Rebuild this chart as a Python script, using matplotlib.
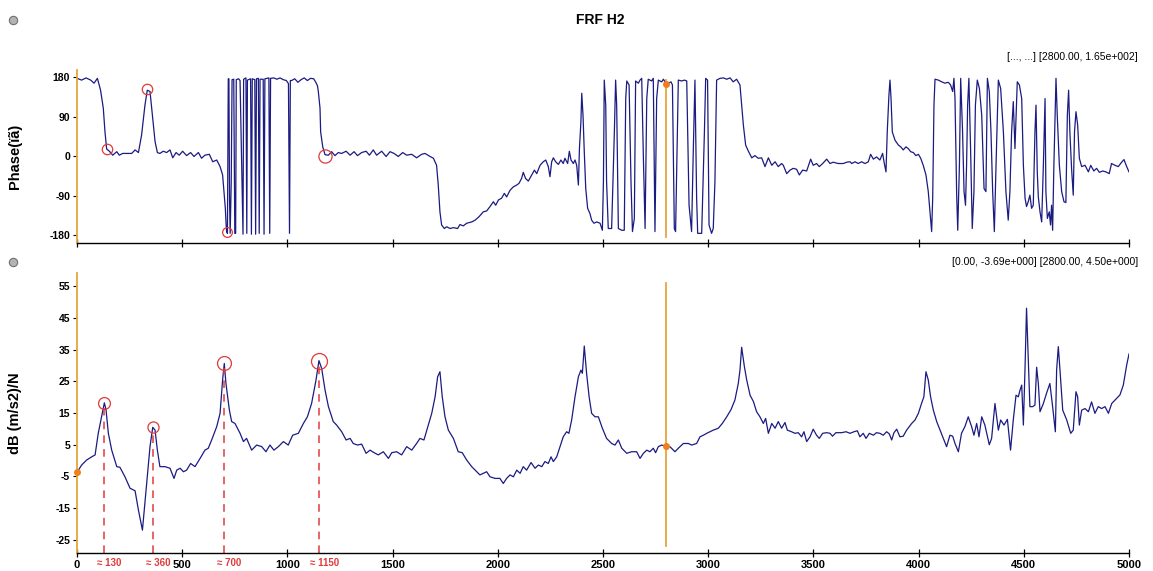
import numpy as np
import matplotlib
matplotlib.use("Agg")
import matplotlib.pyplot as plt
from matplotlib.lines import Line2D

plt.rcParams['font.family'] = ['Liberation Sans', 'DejaVu Sans']

# FRF H2 magnitude, (frequency Hz, dB)
mag_points = [
    (0, -3.69), (22, -1.4), (46, 0.2), (70, 1.2), (86, 1.8), (101, 8.6), (117, 13.8),
    (130, 18.2), (138, 16.0), (149, 8.6), (165, 3.3), (189, -1.9), (204, -2.1),
    (228, -5.1), (252, -8.7), (276, -9.5), (292, -15.6), (311, -21.9), (331, -7.2),
    (347, 4.4), (360, 10.5), (371, 9.6), (382, 3.3), (394, -1.9), (418, -1.9),
    (442, -2.4), (461, -5.6), (474, -3.0), (490, -2.4), (506, -3.5), (521, -3.0),
    (540, -0.9), (561, -1.9), (585, 0.7), (608, 3.3), (624, 3.9), (640, 6.5),
    (664, 10.7), (680, 14.9), (692, 25.4), (700, 30.6), (708, 24.3), (724, 16.0),
    (735, 12.3), (751, 11.7), (775, 8.6), (791, 6.0), (806, 7.0), (830, 3.3),
    (854, 4.9), (878, 4.4), (898, 2.8), (917, 4.9), (936, 3.3), (957, 4.4),
    (981, 6.0), (1004, 4.9), (1025, 8.0), (1052, 8.6), (1076, 11.7), (1095, 13.8),
    (1115, 18.0), (1136, 25.4), (1150, 31.5), (1163, 29.0), (1179, 22.2), (1195, 17.0),
    (1218, 12.3), (1234, 11.2), (1258, 9.1), (1279, 6.5), (1298, 7.0), (1313, 5.4),
    (1333, 4.9), (1353, 5.2), (1374, 2.3), (1393, 3.3), (1412, 2.5), (1432, 1.8),
    (1456, 2.8), (1480, 0.7), (1496, 2.5), (1519, 2.8), (1543, 1.8), (1567, 4.4),
    (1591, 3.3), (1614, 5.4), (1630, 7.0), (1649, 6.5), (1670, 11.2), (1686, 14.9),
    (1702, 20.1), (1714, 26.4), (1725, 28.0), (1736, 20.1), (1749, 13.8), (1765, 9.6),
    (1789, 7.0), (1812, 2.8), (1831, 2.5), (1852, 0.2), (1876, -1.9), (1900, -3.5),
    (1915, -4.5), (1931, -4.0), (1947, -3.5), (1963, -5.1), (1987, -5.6), (2010, -5.6),
    (2026, -7.2), (2042, -5.6), (2058, -4.5), (2074, -5.1), (2090, -3.0), (2106, -4.0),
    (2121, -1.9), (2137, -3.0), (2158, -0.6), (2177, -2.4), (2193, -1.4), (2209, -1.9),
    (2224, -0.3), (2240, -0.9), (2253, 1.2), (2264, -0.3), (2280, 1.2), (2296, 4.4),
    (2311, 7.5), (2327, 9.1), (2338, 8.6), (2351, 12.8), (2367, 20.1), (2383, 26.4),
    (2395, 28.5), (2402, 27.5), (2411, 36.1), (2422, 27.5), (2434, 20.1), (2446, 14.9),
    (2462, 13.8), (2478, 13.8), (2497, 10.2), (2517, 7.0), (2541, 5.4), (2557, 4.9),
    (2573, 6.5), (2589, 3.9), (2613, 2.3), (2636, 2.8), (2660, 2.8), (2676, 0.7),
    (2692, 2.3), (2708, 3.3), (2723, 2.8), (2739, 3.9), (2750, 2.5), (2763, 4.4),
    (2779, 4.9), (2800, 4.5), (2818, 4.4), (2842, 2.8), (2858, 3.9), (2882, 5.4),
    (2906, 5.4), (2921, 4.9), (2945, 5.4), (2961, 7.5), (2977, 8.0), (2993, 8.6),
    (3009, 9.1), (3024, 9.6), (3048, 10.2), (3067, 11.7), (3088, 13.8), (3108, 16.0),
    (3127, 19.1), (3143, 24.3), (3151, 28.5), (3159, 35.7), (3172, 29.6), (3183, 25.4),
    (3199, 20.6), (3215, 18.6), (3230, 15.4), (3246, 13.8), (3262, 11.7), (3273, 13.3),
    (3286, 8.6), (3302, 11.7), (3318, 10.2), (3333, 12.3), (3349, 10.2), (3365, 12.0),
    (3376, 9.6), (3396, 9.1), (3412, 8.6), (3428, 8.8), (3444, 7.5), (3455, 9.1),
    (3468, 6.0), (3484, 7.5), (3499, 9.9), (3515, 8.0), (3528, 7.0), (3544, 8.6),
    (3563, 8.8), (3579, 8.6), (3591, 7.7), (3607, 8.8), (3634, 8.8), (3655, 9.1),
    (3674, 8.6), (3693, 9.1), (3709, 9.4), (3721, 7.5), (3737, 8.6), (3750, 7.0),
    (3766, 8.6), (3785, 8.0), (3800, 8.8), (3816, 8.6), (3832, 8.0), (3848, 9.1),
    (3861, 8.4), (3872, 6.5), (3883, 8.8), (3896, 9.9), (3911, 7.5), (3927, 7.7),
    (3943, 9.6), (3967, 11.7), (3983, 12.8), (3999, 14.9), (4014, 18.0), (4025, 20.1),
    (4035, 28.0), (4046, 25.4), (4057, 20.1), (4070, 15.9), (4086, 12.3), (4102, 9.6),
    (4117, 7.0), (4133, 4.4), (4149, 8.0), (4162, 7.7), (4173, 5.4), (4189, 2.8),
    (4204, 8.6), (4220, 10.7), (4236, 13.8), (4252, 10.7), (4263, 8.0), (4276, 11.7),
    (4287, 7.5), (4300, 13.8), (4315, 11.2), (4336, 5.0), (4347, 7.0), (4363, 18.0),
    (4379, 9.6), (4390, 12.8), (4406, 11.2), (4422, 13.0), (4437, 3.3), (4450, 12.8),
    (4463, 20.6), (4474, 20.1), (4482, 22.2), (4490, 23.8), (4498, 11.2), (4506, 29.6),
    (4513, 48.0), (4521, 32.7), (4529, 17.0), (4542, 17.0), (4553, 17.5), (4561, 29.4),
    (4569, 24.3), (4577, 15.4), (4593, 18.0), (4608, 21.2), (4624, 24.3), (4637, 17.0),
    (4650, 9.1), (4656, 28.5), (4664, 35.9), (4672, 28.5), (4685, 15.9), (4704, 12.8),
    (4723, 8.6), (4735, 9.6), (4748, 21.7), (4756, 20.1), (4764, 11.2), (4775, 15.9),
    (4791, 16.4), (4807, 15.4), (4822, 18.5), (4838, 14.9), (4854, 17.0), (4870, 16.4),
    (4886, 17.0), (4902, 14.9), (4918, 18.0), (4941, 19.6), (4957, 20.7), (4973, 23.8),
    (4989, 30.1), (5000, 33.6),
]

# FRF H2 phase, (frequency Hz, degrees)
phase_points = [
    (0, 177), (22, 173), (43, 178), (65, 173), (81, 166), (97, 177), (112, 150),
    (125, 109), (133, 55), (141, 16), (154, 11), (170, 2), (189, 10), (201, 2),
    (217, 6), (236, 6), (260, 6), (276, 14), (292, 8), (307, 48), (323, 116),
    (334, 150), (347, 147), (360, 86), (371, 33), (382, 8), (394, 6), (410, 11),
    (426, 8), (442, 14), (455, -4), (471, 8), (486, 2), (502, 11), (521, 1),
    (540, 8), (556, -1), (577, 8), (592, -5), (608, 2), (629, 4), (645, -13),
    (664, -9), (680, -24), (692, -43), (700, -89), (705, -119), (708, -150),
    (711, -172), (715, -176), (719, 176), (722, 176), (725, -100), (728, -176),
    (733, -60), (737, 174), (745, 175), (750, -176), (754, -176), (757, 174),
    (768, 176), (775, 172), (789, -178), (792, 175), (803, 178), (807, -176),
    (810, 173), (825, 176), (829, -178), (833, 176), (845, 174), (849, -178),
    (853, 176), (862, 177), (866, -176), (870, 175), (885, 175), (889, -178),
    (893, 176), (912, 178), (916, -176), (920, 177), (935, 178), (950, 175),
    (965, 178), (980, 174), (995, 172), (1005, 165), (1010, -176), (1014, 172),
    (1020, 172), (1035, 176), (1050, 168), (1065, 174), (1080, 178), (1095, 172),
    (1110, 177), (1125, 176), (1135, 168), (1143, 160), (1147, 147), (1155, 109),
    (1158, 55), (1168, 21), (1179, 3), (1195, 2), (1210, 10), (1226, 1), (1242, 8),
    (1258, 6), (1279, 11), (1298, 2), (1317, 10), (1333, 1), (1353, 8), (1374, 11),
    (1390, 2), (1408, 14), (1424, 2), (1448, 11), (1469, -1), (1488, 10), (1507, 6),
    (1527, -1), (1548, 8), (1567, 2), (1591, 4), (1614, -4), (1638, 4), (1654, 6),
    (1678, -1), (1694, -5), (1709, -21), (1717, -66), (1725, -127), (1733, -157),
    (1746, -165), (1757, -161), (1773, -165), (1789, -163), (1809, -165), (1820, -156),
    (1836, -159), (1852, -153), (1876, -150), (1892, -146), (1911, -138), (1931, -127),
    (1947, -125), (1963, -115), (1979, -104), (1990, -112), (2003, -100), (2018, -96),
    (2031, -85), (2042, -93), (2058, -78), (2074, -70), (2090, -66), (2101, -62),
    (2113, -51), (2121, -37), (2132, -51), (2145, -57), (2161, -43), (2174, -32),
    (2185, -40), (2201, -21), (2216, -13), (2228, -9), (2240, -24), (2248, -47),
    (2256, -13), (2264, -4), (2275, -13), (2288, -19), (2300, -9), (2311, -17),
    (2319, -5), (2332, -17), (2340, 11), (2348, -9), (2359, -17), (2367, -9),
    (2375, -21), (2383, -66), (2388, 17), (2395, 78), (2399, 143), (2405, 93),
    (2411, 10), (2418, -74), (2427, -119), (2438, -131), (2446, -146), (2457, -153),
    (2470, -150), (2486, -153), (2497, -169), (2502, -58), (2506, 173), (2513, 116),
    (2517, -58), (2525, -165), (2541, -165), (2554, 55), (2560, 173), (2565, 116),
    (2573, -165), (2589, -169), (2601, -169), (2608, 131), (2613, 171), (2624, 162),
    (2633, -58), (2640, -172), (2649, -142), (2655, 171), (2668, 166), (2676, 173),
    (2684, 177), (2692, -5), (2700, -165), (2708, 131), (2715, 175), (2731, 171),
    (2739, 177), (2747, -172), (2755, 131), (2763, 173), (2779, 169), (2787, 175),
    (2800, 165), (2811, 166), (2823, 169), (2830, 162), (2839, -165), (2845, -172),
    (2858, 173), (2874, 171), (2887, 173), (2898, 171), (2909, -112), (2921, -172),
    (2929, 10), (2937, 173), (2945, -96), (2950, -176), (2969, -176), (2982, 55),
    (2988, 177), (2997, 173), (3004, -157), (3016, -176), (3024, -165), (3032, -58),
    (3040, 173), (3056, 177), (3072, 178), (3088, 175), (3104, 178), (3119, 169),
    (3135, 175), (3151, 162), (3159, 116), (3167, 71), (3178, 25), (3191, 11),
    (3207, -4), (3222, 1), (3238, -5), (3254, -4), (3270, -24), (3286, -4),
    (3302, -21), (3318, -13), (3333, -24), (3349, -17), (3357, -21), (3373, -40),
    (3389, -32), (3404, -28), (3420, -30), (3433, -43), (3449, -32), (3468, -34),
    (3487, -7), (3499, -21), (3515, -17), (3528, -24), (3544, -17), (3563, -7),
    (3579, -17), (3594, -14), (3618, -17), (3642, -17), (3658, -14), (3674, -13),
    (3682, -17), (3698, -13), (3713, -17), (3729, -13), (3745, -17), (3761, -13),
    (3772, 4), (3785, -7), (3800, -2), (3816, -9), (3829, 6), (3837, -17),
    (3845, -36), (3851, 55), (3859, 139), (3864, 173), (3869, 131), (3875, 55),
    (3888, 36), (3904, 25), (3915, 21), (3927, 14), (3940, 21), (3951, 17),
    (3962, 10), (3975, 8), (3987, 1), (3999, 4), (4010, -5), (4022, -21),
    (4035, -43), (4046, -81), (4054, -127), (4062, -172), (4067, -96), (4073, 116),
    (4078, 175), (4094, 173), (4110, 169), (4125, 166), (4141, 168), (4152, 162),
    (4162, 147), (4168, 177), (4173, 131), (4181, -89), (4186, -169), (4194, -21),
    (4200, 177), (4209, 55), (4216, -81), (4223, -112), (4228, -21), (4233, 116),
    (4239, 177), (4247, 17), (4255, -165), (4263, -81), (4270, 116), (4279, 173),
    (4289, 154), (4300, 93), (4311, -74), (4320, -81), (4327, 177), (4336, 147),
    (4344, 55), (4352, -81), (4360, -172), (4368, -21), (4379, 173), (4390, 154),
    (4403, 55), (4415, -81), (4426, -146), (4434, -81), (4442, 55), (4450, 124),
    (4458, 17), (4469, 169), (4479, 162), (4490, 131), (4498, -21), (4506, -96),
    (4513, -115), (4521, -104), (4529, -89), (4537, -119), (4545, -112), (4553, 55),
    (4558, 116), (4564, -36), (4569, -93), (4577, -127), (4585, -150), (4593, -21),
    (4601, 131), (4605, -81), (4612, -142), (4621, -127), (4627, -157), (4632, -112),
    (4637, -169), (4643, -21), (4653, 177), (4659, 93), (4669, -21), (4680, -81),
    (4691, -104), (4700, -106), (4707, 93), (4713, 150), (4719, 55), (4727, -28),
    (4735, -89), (4741, 55), (4748, 101), (4756, 71), (4764, -5), (4775, -24),
    (4791, -21), (4807, -36), (4818, -21), (4833, -34), (4846, -28), (4859, -37),
    (4875, -34), (4890, -36), (4906, -40), (4917, -17), (4933, -21), (4949, -24),
    (4965, -14), (4976, -8), (4989, -24), (5000, -36),
]

# resonance marks
peak_freqs = [130, 360, 700, 1150]
peak_labels = ['≈ 130', '≈ 360', '≈ 700', '≈ 1150']
mag_circle_sizes = [8.5, 8, 10, 11.5]
phase_marks = [(141, 16), (334, 152), (711, -174), (1179, 1)]
phase_circle_sizes = [7.5, 7.5, 7, 9.5]

cursor_a = (0.0, -3.69)
cursor_b_freq = 2800.0
cursor_b_phase = 165.0
cursor_b_mag = 4.50

x_ticks = np.arange(0, 5001, 500)
phase_ticks = [-180, -90, 0, 90, 180]
mag_ticks = [-25, -15, -5, 5, 15, 25, 35, 45, 55]

mag_freq, mag_db = np.array(mag_points).T
ph_freq, ph_deg = np.array(phase_points).T

navy = '#1b1b82'
cursor_col = '#e8a53c'
dot_col = '#f0801e'
red = '#e03a3a'

fig = plt.figure(figsize=(11.53, 5.71), dpi=100)
W, H = 1153, 571
left, width = 77 / W, 1052 / W
ax1 = fig.add_axes([left, 1 - 243 / H, width, 173 / H])
ax2 = fig.add_axes([left, 1 - 553 / H, width, 280 / H])

for ax in (ax1, ax2):
    for s in ('top', 'right'):
        ax.spines[s].set_visible(False)
    ax.spines['left'].set_color(cursor_col)
    ax.spines['left'].set_linewidth(1.3)
    ax.spines['bottom'].set_linewidth(1.0)
    ax.set_xlim(0, 5000)
    ax.set_xticks(x_ticks)
    ax.tick_params(axis='x', direction='inout', length=6, width=0.9)
    ax.tick_params(axis='y', direction='out', length=3, width=0.8, pad=2)
    for lab in ax.get_yticklabels():
        lab.set_fontweight('bold')

# phase panel
ax1.plot(ph_freq, ph_deg, color=navy, lw=0.9)
ax1.set_ylim(-198, 196)
ax1.set_yticks(phase_ticks)
ax1.set_yticklabels([str(t) for t in phase_ticks], fontsize=7.5, fontweight='bold')
ax1.set_xticklabels([])
ax1.set_ylabel('Phase(ïã)', fontsize=10.5, fontweight='bold')
ax1.yaxis.set_label_coords(-0.052, 0.5)
for (f, d), ms in zip(phase_marks, phase_circle_sizes):
    ax1.plot(f, d, 'o', ms=ms, mfc='none', mec=red, mew=0.9)
ax1.axvline(cursor_b_freq, ymin=0.035, ymax=0.94, color=cursor_col, lw=1.3)
ax1.plot(cursor_b_freq, cursor_b_phase, 'o', ms=4, color=dot_col, zorder=5)

# magnitude panel
ax2.plot(mag_freq, mag_db, color=navy, lw=0.9)
ax2.set_ylim(-29.1, 59.1)
ax2.set_yticks(mag_ticks)
ax2.set_yticklabels([str(t) for t in mag_ticks], fontsize=7.5, fontweight='bold')
ax2.set_xticklabels([str(t) for t in x_ticks], fontsize=8, fontweight='bold')
ax2.tick_params(axis='x', pad=2)
ax2.set_ylabel('dB (m/s2)/N', fontsize=10.5, fontweight='bold')
ax2.yaxis.set_label_coords(-0.052, 0.5)
peak_db = np.interp(peak_freqs, mag_freq, mag_db)
for f, v, ms, lab in zip(peak_freqs, peak_db, mag_circle_sizes, peak_labels):
    ax2.plot(f, v, 'o', ms=ms, mfc='none', mec=red, mew=0.9)
    ax2.plot([f, f], [-29.1, v - 1.5], color=red, lw=1.1, ls=(0, (5, 4)))
    ax2.text(f + 25, -30.6, lab, color=red, fontsize=7, fontweight='bold',
             ha='center', va='top')
ax2.axvline(cursor_b_freq, ymin=0.025, ymax=0.964, color=cursor_col, lw=1.3)
ax2.plot(cursor_b_freq, cursor_b_mag, 'o', ms=4, color=dot_col, zorder=5)
ax2.plot(cursor_a[0], cursor_a[1], 'o', ms=4, color=dot_col, zorder=5, clip_on=False)

# header texts
fig.text(600 / W, 1 - 20 / H, 'FRF H2', ha='center', va='center',
         fontsize=10, fontweight='bold')
fig.text(1138 / W, 1 - 57 / H, '[..., ...] [%.2f, 1.65e+002]' % cursor_b_freq,
         ha='right', va='center', fontsize=7.5)
fig.text(1138 / W, 1 - 262 / H,
         '[%.2f, -3.69e+000] [%.2f, 4.50e+000]' % (cursor_a[0], cursor_b_freq),
         ha='right', va='center', fontsize=7.5)
for yy in (20, 262):
    fig.add_artist(Line2D([13 / W], [1 - yy / H], marker='o', ms=6,
                          mfc='#b4b4b4', mec='#707070', mew=0.8,
                          transform=fig.transFigure))

fig.savefig('out.png', dpi=100)
